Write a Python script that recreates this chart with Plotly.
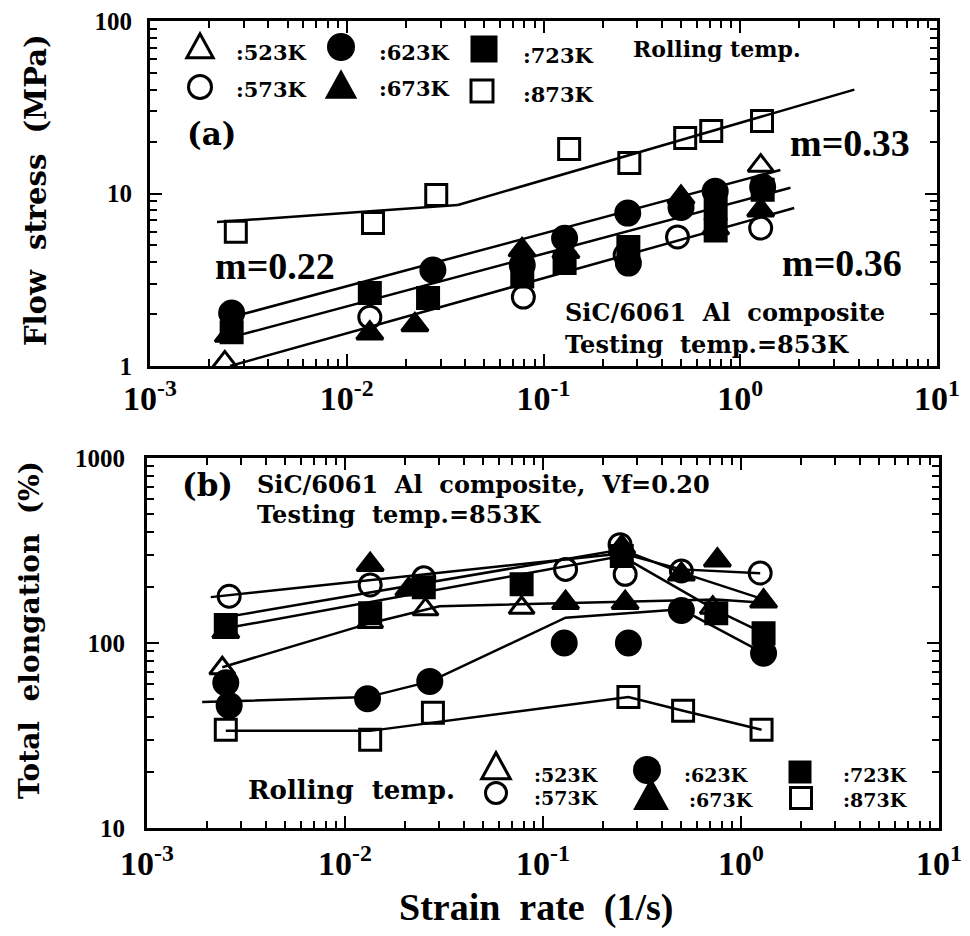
import plotly.graph_objects as go

W, H = 970, 936
TIMES = "Liberation Serif"
WIDE = "DejaVu Serif"
NB = "\u00a0"

# ---------------- (a) Flow stress (MPa) vs strain rate ----------------
a_523_x = [0.0024, 1.27]
a_523_y = [1.05, 14.5]
a_573_x = [0.0131, 0.079, 0.26, 0.48, 1.27]
a_573_y = [1.92, 2.51, 4.4, 5.6, 6.3]
a_623_x = [0.0026, 0.0274, 0.078, 0.128, 0.268, 0.27, 0.50, 0.746, 1.30]
a_623_y = [2.03, 3.6, 3.85, 5.5, 7.7, 3.95, 8.3, 10.3, 10.9]
a_673_x = [0.0025, 0.0131, 0.0222, 0.0778, 0.13, 0.50, 0.75, 1.27]
a_673_y = [1.50, 1.55, 1.73, 4.7, 4.6, 9.5, 6.3, 8.0]
a_723_x = [0.0026, 0.0131, 0.0259, 0.078, 0.128, 0.27, 0.75, 0.75, 1.30]
a_723_y = [1.57, 2.65, 2.48, 3.3, 3.95, 4.9, 6.1, 8.2, 10.5]
a_873_x = [0.00273, 0.0136, 0.0285, 0.135, 0.273, 0.525, 0.712, 1.29]
a_873_y = [6.0, 6.75, 9.8, 18.1, 15.0, 21.0, 23.0, 26.3]

# fitted lines in (a)
fit_873_low_x = [0.00219, 0.0367]
fit_873_low_y = [6.83, 8.58]
fit_873_high_x = [0.0367, 3.8]
fit_873_high_y = [8.58, 40.0]
fit_upper_x = [0.00297, 1.6]
fit_upper_y = [2.0, 13.7]
fit_mid_x = [0.00297, 1.8]
fit_mid_y = [1.53, 10.8]
fit_lower_x = [0.00255, 1.88]
fit_lower_y = [1.0, 8.24]

# ---------------- (b) Total elongation (%) vs strain rate ----------------
b_523_x = [0.0024, 0.0134, 0.0255, 0.078, 0.72]
b_523_y = [73, 130, 152, 155, 155]
b_573_x = [0.0026, 0.0134, 0.025, 0.13, 0.245, 0.26, 0.50, 1.25]
b_573_y = [179, 206, 225, 250, 340, 235, 245, 239]
b_623_x = [0.0025, 0.0026, 0.013, 0.0268, 0.128, 0.27, 0.50, 1.30]
b_623_y = [61, 46, 50, 62, 100, 100, 150, 88]
b_673_x = [0.0025, 0.0134, 0.021, 0.13, 0.25, 0.26, 0.50, 0.76, 1.30]
b_673_y = [115, 265, 195, 165, 330, 165, 235, 280, 168]
b_723_x = [0.0025, 0.0134, 0.025, 0.078, 0.25, 0.75, 1.30]
b_723_y = [125, 145, 200, 208, 295, 145, 113]
b_873_x = [0.0025, 0.0134, 0.0278, 0.27, 0.51, 1.27]
b_873_y = [34, 30, 42, 51, 43, 34]

# connecting lines in (b)
bl_573_x = [0.0021, 0.25, 0.50, 1.25]
bl_573_y = [177, 305, 250, 238]
bl_673_x = [0.0025, 0.25, 0.50, 1.30]
bl_673_y = [138, 320, 240, 172]
bl_723_x = [0.0025, 0.25, 0.75, 1.30]
bl_723_y = [120, 295, 150, 113]
bl_523_x = [0.0024, 0.0134, 0.03, 0.75, 1.30]
bl_523_y = [74, 128, 158, 172, 165]
bl_623_x = [0.0019, 0.013, 0.027, 0.13, 0.50, 1.30]
bl_623_y = [48, 51, 62, 137, 152, 88]
bl_873_x = [0.0025, 0.0134, 0.27, 0.51, 1.27]
bl_873_y = [33.5, 33.5, 51, 43, 34]

x_tickvals = [1e-3, 1e-2, 1e-1, 1e0, 1e1]
x_ticktext = ["10<sup>-3</sup>", "10<sup>-2</sup>", "10<sup>-1</sup>", "10<sup>0</sup>", "10<sup>1</sup>"]
ya_tickvals = [1, 10, 100]
ya_ticktext = ["1", "10", "100"]
yb_tickvals = [10, 100, 1000]
yb_ticktext = ["10", "100", "1000"]
minor_digits = [2, 3, 4, 5, 6, 7, 8, 9]
legend_labels = [":523K", ":573K", ":623K", ":673K", ":723K", ":873K"]

styles = {
    "523K": dict(symbol="triangle-up-open", size=22),
    "573K": dict(symbol="circle-open", size=22),
    "623K": dict(symbol="circle", size=24),
    "673K": dict(symbol="triangle-up", size=23),
    "723K": dict(symbol="square", size=21),
    "873K": dict(symbol="square-open", size=21),
}

fig = go.Figure()


def add_line(x, y, xa, ya):
    fig.add_trace(go.Scatter(x=x, y=y, mode="lines", xaxis=xa, yaxis=ya,
                             line=dict(color="black", width=2.5),
                             showlegend=False, hoverinfo="skip"))


def add_pts(x, y, key, xa, ya):
    st = styles[key]
    fig.add_trace(go.Scatter(x=x, y=y, mode="markers", xaxis=xa, yaxis=ya, name=key,
                             marker=dict(symbol=st["symbol"], size=st["size"], color="black",
                                         line=dict(color="black", width=3)),
                             showlegend=False))


for lx, ly in [(fit_873_low_x, fit_873_low_y), (fit_873_high_x, fit_873_high_y),
               (fit_upper_x, fit_upper_y), (fit_mid_x, fit_mid_y), (fit_lower_x, fit_lower_y)]:
    add_line(lx, ly, "x", "y")
for px, py, k in [(a_873_x, a_873_y, "873K"), (a_573_x, a_573_y, "573K"),
                  (a_723_x, a_723_y, "723K"), (a_673_x, a_673_y, "673K"),
                  (a_623_x, a_623_y, "623K"), (a_523_x, a_523_y, "523K")]:
    add_pts(px, py, k, "x", "y")

for lx, ly in [(bl_573_x, bl_573_y), (bl_673_x, bl_673_y), (bl_723_x, bl_723_y),
               (bl_523_x, bl_523_y), (bl_623_x, bl_623_y), (bl_873_x, bl_873_y)]:
    add_line(lx, ly, "x2", "y2")
for px, py, k in [(b_873_x, b_873_y, "873K"), (b_573_x, b_573_y, "573K"),
                  (b_723_x, b_723_y, "723K"), (b_623_x, b_623_y, "623K"),
                  (b_673_x, b_673_y, "673K"), (b_523_x, b_523_y, "523K")]:
    add_pts(px, py, k, "x2", "y2")


def minor_vals(lo, hi):
    return [d * 10 ** e for e in range(lo, hi) for d in minor_digits]


def axis(rng, dom, tv, tt, font, anchor, standoff):
    return dict(type="log", range=rng, domain=dom, anchor=anchor, automargin=False,
                showline=True, linewidth=3, linecolor="black", mirror="ticks",
                ticks="inside", ticklen=12, tickwidth=2, tickcolor="black",
                tickmode="array", tickvals=tv, ticktext=tt, ticklabelstandoff=standoff,
                tickfont=font,
                minor=dict(ticks="inside", ticklen=7, tickwidth=2, tickcolor="black",
                           tickmode="array", tickvals=minor_vals(rng[0], rng[1]), showgrid=False),
                showgrid=False, zeroline=False)


def px_x(p):
    return p / W


def px_y(p):
    return 1 - p / H


xfont = dict(family=TIMES, size=34, color="black", weight="bold")
yfont = dict(family=TIMES, size=25, color="black", weight="bold")

fig.update_layout(
    width=W, height=H, margin=dict(l=0, r=0, t=0, b=0, autoexpand=False),
    paper_bgcolor="white", plot_bgcolor="white", showlegend=False,
    xaxis=axis([-3, 1], [px_x(150), px_x(937)], x_tickvals, x_ticktext, xfont, "y", 0),
    yaxis=axis([0, 2], [px_y(366), px_y(21)], ya_tickvals, ya_ticktext, yfont, "x", 10),
    xaxis2=axis([-3, 1], [px_x(147), px_x(939)], x_tickvals, x_ticktext, xfont, "y2", 3),
    yaxis2=axis([1, 3], [px_y(828), px_y(458)], yb_tickvals, yb_ticktext, yfont, "x2", 14),
)


def txt(s, x, y, size, xanchor="left", family=WIDE, angle=0):
    fig.add_annotation(text=s, x=px_x(x), y=px_y(y), xref="paper", yref="paper",
                       xanchor=xanchor, yanchor="middle", showarrow=False, textangle=angle,
                       borderpad=0,
                       font=dict(family=family, size=size, color="black", weight="bold"))


# legend keys drawn as small shapes (pixel centre cx, cy; size s)
def key(kind, cx, cy, s):
    filled = kind in ("623K", "673K", "723K")
    fill = "black" if filled else "rgba(0,0,0,0)"
    line = dict(color="black", width=3)
    x0, x1 = px_x(cx - s / 2), px_x(cx + s / 2)
    y0, y1 = px_y(cy + s / 2), px_y(cy - s / 2)
    if kind in ("573K", "623K"):
        fig.add_shape(type="circle", xref="paper", yref="paper", x0=x0, x1=x1, y0=y0, y1=y1,
                      fillcolor=fill, line=line)
    elif kind in ("723K", "873K"):
        fig.add_shape(type="rect", xref="paper", yref="paper", x0=x0, x1=x1, y0=y0, y1=y1,
                      fillcolor=fill, line=line)
    else:
        hw = s * 0.55
        p = "M {:.5f},{:.5f} L {:.5f},{:.5f} L {:.5f},{:.5f} Z".format(
            px_x(cx - hw), px_y(cy + s * 0.45), px_x(cx + hw), px_y(cy + s * 0.45),
            px_x(cx), px_y(cy - s * 0.55))
        fig.add_shape(type="path", xref="paper", yref="paper", path=p, fillcolor=fill, line=line)


sp2 = NB * 2
# ---- panel (a) texts
txt("(a)", 186, 134, 31)
txt("m=0.22", 214, 266, 38, family=TIMES)
txt("m=0.33", 789, 143, 38, family=TIMES)
txt("m=0.36", 781, 263, 38, family=TIMES)
txt("SiC/6061" + sp2 + "Al" + sp2 + "composite", 564, 313, 24)
txt("Testing" + sp2 + "temp.=853K", 564, 344, 24)
txt("Rolling" + NB + "temp.", 632, 49, 22)

# legend (a)
leg_a_keys = ["523K", "573K", "623K", "673K", "723K", "873K"]
leg_a_pos = [(200, 47, 24), (200, 87, 23), (341, 47, 25), (341, 86, 25), (484, 49, 24), (482, 91, 22)]
leg_a_lab = [(235, 52), (235, 90), (378, 52), (378, 88), (522, 55), (522, 95)]
for k, (cx, cy, s), lab, (lx, ly) in zip(leg_a_keys, leg_a_pos, legend_labels, leg_a_lab):
    key(k, cx, cy, s)
    txt(lab, lx, ly, 21)

# ---- panel (b) texts
txt("(b)", 181, 485, 31)
txt("SiC/6061" + sp2 + "Al" + sp2 + "composite," + sp2 + "Vf=0.20", 256, 484, 24)
txt("Testing" + sp2 + "temp.=853K", 256, 514, 24)
txt("Rolling" + sp2 + "temp.", 247, 790, 26)

leg_b_pos = [(496, 767, 26), (496, 793, 21), (647, 770, 25), (651, 796, 28), (800, 772, 20), (801, 798, 21)]
leg_b_lab = [(533, 775), (533, 798), (683, 775), (688, 800), (842, 775), (842, 800)]
for k, (cx, cy, s), lab, (lx, ly) in zip(leg_a_keys, leg_b_pos, legend_labels, leg_b_lab):
    key(k, cx, cy, s)
    txt(lab, lx, ly, 19)

# axis titles
txt("Flow" + sp2 + "stress" + sp2 + "(MPa)", 36, 190, 29, xanchor="center", angle=-90)
txt("Total" + sp2 + "elongation" + sp2 + "(%)", 29, 630, 28, xanchor="center", angle=-90)
txt("Strain" + sp2 + "rate" + sp2 + "(1/s)", 536, 907, 38, xanchor="center", family=TIMES)

fig.write_html("out.html", config={"displayModeBar": False},
               post_script="document.body.style.margin='0';document.body.style.overflow='hidden';")
